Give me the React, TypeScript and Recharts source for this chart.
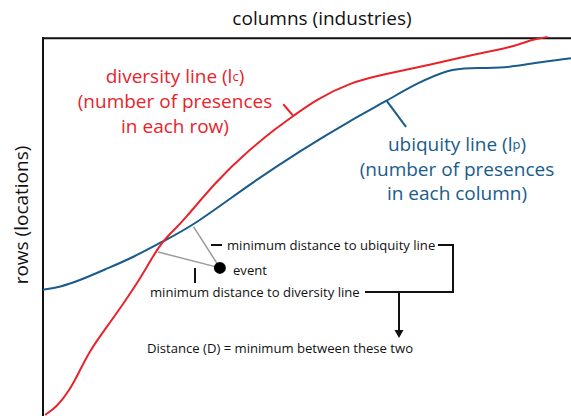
import { LineChart, Line, XAxis, YAxis, ReferenceLine, ReferenceDot } from "recharts"

// industry index (0-100) vs location index (0-100)
const diversityX = [0.4, 2.6, 5.1, 7.0, 8.9, 12.1, 15.2, 18.4, 20.9, 22.8, 24.7, 26.6, 32.9, 39.2, 44.3, 47.4, 51.8, 58.1, 64.5, 73.9, 80.3, 87.9, 90.3, 92.8, 95.6]
const diversityY = [0.3, 2.4, 6.9, 12.1, 17.4, 23.6, 29.7, 36.3, 42.5, 46.4, 49.1, 51.7, 62.3, 70.6, 76.3, 79.4, 83.8, 88.2, 90.4, 93.1, 95.3, 97.4, 98.4, 99.7, 100.3]

const ubiquityX = [0, 3.2, 7.0, 12.1, 17.1, 22.8, 28.5, 39.2, 48.7, 58.1, 65.1, 70.8, 77.1, 80.3, 87.9, 92.8, 100]
const ubiquityY = [33.4, 34.1, 35.9, 39.0, 42.0, 46.3, 50.4, 61.4, 70.2, 78.1, 83.4, 88.1, 91.8, 92.1, 92.1, 93.4, 94.7]

const eventPoint = { x: 33.5, y: 39.2 }
const nearestOnDiversity = { x: 21.8, y: 43.4 }
const nearestOnUbiquity = { x: 28.5, y: 50.1 }

const diversityLeader = [{ x: 47.4, y: 79.4 }, { x: 45.5, y: 82.5 }]
const ubiquityLeader = [{ x: 65.1, y: 83.4 }, { x: 68.75, y: 76.5 }]

const RED = "#e8232b"
const BLUE = "#195b8b"
const FONT = "'Open Sans', sans-serif"

const diversityData = diversityX.map((x, i) => ({ x, y: diversityY[i] }))
const ubiquityData = ubiquityX.map((x, i) => ({ x, y: ubiquityY[i] }))

function Annotations() {
  return (
    <g fontFamily={FONT}>
      <text x={322} y={18} textAnchor="middle" dominantBaseline="central" fontSize={19} fill="#111">
        columns (industries)
      </text>
      <text
        x={21}
        y={215}
        textAnchor="middle"
        dominantBaseline="central"
        fontSize={19}
        fill="#111"
        transform="rotate(-90 21 215)"
      >
        rows (locations)
      </text>

      {/* diversity label */}
      <g fill={RED} fontSize={19} textAnchor="middle" dominantBaseline="central">
        <text x={175} y={76}>
          diversity line (l<tspan fontSize={13}>c</tspan>)
        </text>
        <text x={175} y={101}>(number of presences</text>
        <text x={175} y={126}>in each row)</text>
      </g>

      {/* ubiquity label */}
      <g fill={BLUE} fontSize={19} textAnchor="middle" dominantBaseline="central">
        <text x={457} y={144}>
          ubiquity line (l<tspan fontSize={13}>p</tspan>)
        </text>
        <text x={457} y={169}>(number of presences</text>
        <text x={457} y={193}>in each column)</text>
      </g>

      {/* distance notes */}
      <g fill="#111" fontSize={13.1} dominantBaseline="central">
        <text x={227} y={245}>minimum distance to ubiquity line</text>
        <text x={233} y={270}>event</text>
        <text x={150} y={292}>minimum distance to diversity line</text>
        <text x={147} y={348}>Distance (D) = minimum between these two</text>
      </g>
      <g stroke="#111" strokeWidth={2} fill="none">
        <line x1={211} y1={245} x2={222} y2={245} />
        <line x1={195} y1={268} x2={195} y2={283} />
        <path d="M438,245 H453 V292 H365" />
        <line x1={399} y1={292} x2={399} y2={331} />
      </g>
      <polygon points="394.5,330 403.5,330 399,338" fill="#111" />
    </g>
  )
}

export default function App() {
  return (
    <div style={{ position: "absolute", left: 0, top: 0, width: 571, height: 416, background: "#fff" }}>
      <LineChart width={571} height={416} margin={{ top: 37, right: 0, bottom: 0, left: 43 }}>
        <XAxis type="number" dataKey="x" domain={[0, 100]} hide />
        <YAxis type="number" dataKey="y" domain={[0, 100]} hide />
        {/* frame: top and left edges only */}
        <ReferenceLine y={100} stroke="#111" strokeWidth={2} />
        <ReferenceLine x={0} stroke="#111" strokeWidth={2} />
        <Line
          data={ubiquityData}
          dataKey="y"
          type="basis"
          stroke={BLUE}
          strokeWidth={2}
          dot={false}
          isAnimationActive={false}
        />
        <Line
          data={diversityData}
          dataKey="y"
          type="basis"
          stroke={RED}
          strokeWidth={2}
          dot={false}
          isAnimationActive={false}
        />
        <ReferenceLine segment={[nearestOnDiversity, eventPoint]} stroke="#9a9a9a" strokeWidth={1.5} />
        <ReferenceLine segment={[nearestOnUbiquity, eventPoint]} stroke="#9a9a9a" strokeWidth={1.5} />
        <ReferenceLine segment={diversityLeader} stroke={RED} strokeWidth={2} />
        <ReferenceLine segment={ubiquityLeader} stroke={BLUE} strokeWidth={2} />
        <ReferenceDot x={eventPoint.x} y={eventPoint.y} r={6} fill="#000" stroke="none" />
        <Annotations />
      </LineChart>
    </div>
  )
}
